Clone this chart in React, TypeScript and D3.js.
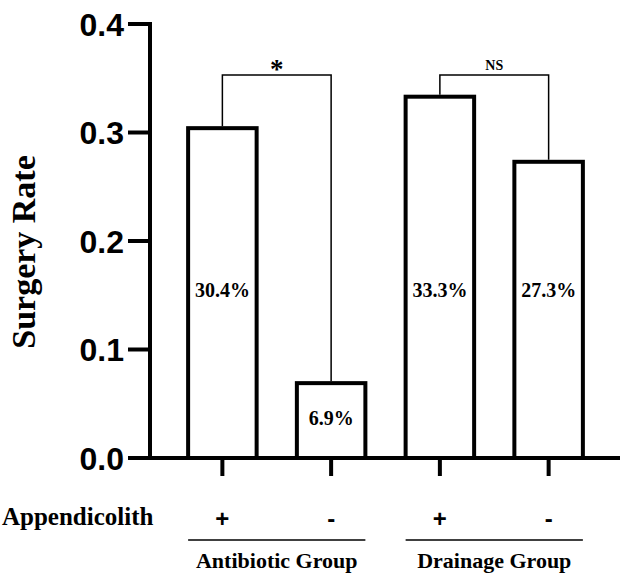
import React, { useRef, useEffect } from 'react';
import * as d3 from 'd3';

// Chart data
const categories = ['AB+', 'AB-', 'DR+', 'DR-'];
const surgeryRates = [0.304, 0.069, 0.333, 0.273];
const rateLabels = ['30.4%', '6.9%', '33.3%', '27.3%'];
const appendicolith = ['+', '-', '+', '-'];
const groups = [
  { name: 'Antibiotic Group', members: ['AB+', 'AB-'] },
  { name: 'Drainage Group', members: ['DR+', 'DR-'] }
];
const comparisons = [
  { from: 'AB+', to: 'AB-', label: '*' },
  { from: 'DR+', to: 'DR-', label: 'NS' }
];
const yTicks = [0, 0.1, 0.2, 0.3, 0.4];

const WIDTH = 629;
const HEIGHT = 574;

const SERIF = '"Times New Roman", "Liberation Serif", serif';
const SANS = 'Arial, "Liberation Sans", sans-serif';

const App = () => {
  const ref = useRef<SVGSVGElement>(null);

  useEffect(() => {
    const svg = d3.select(ref.current);
    svg.selectAll('*').remove();

    const axisX = 150;
    const baseY = 458;

    const y = d3.scaleLinear().domain([0, 0.4]).range([baseY, 24]);
    const x = d3.scaleBand<string>()
      .domain(categories)
      .range([168, 603])
      .paddingInner(0.37)
      .paddingOuter(0.185);
    const cx = (c: string) => (x(c) as number) + x.bandwidth() / 2;

    // Bars
    svg.selectAll('rect.bar')
      .data(categories)
      .join('rect')
      .attr('class', 'bar')
      .attr('x', d => x(d) as number)
      .attr('y', (d, i) => y(surgeryRates[i]))
      .attr('width', x.bandwidth())
      .attr('height', (d, i) => baseY - y(surgeryRates[i]))
      .attr('fill', 'white')
      .attr('stroke', 'black')
      .attr('stroke-width', 4);

    // Value labels: tall bars share one level, short bars get centred
    svg.selectAll('text.val')
      .data(categories)
      .join('text')
      .attr('class', 'val')
      .attr('x', d => cx(d))
      .attr('y', (d, i) => y(surgeryRates[i] < 0.1 ? surgeryRates[i] / 2 : 0.152) + 4)
      .attr('text-anchor', 'middle')
      .style('font-family', SERIF)
      .style('font-weight', 'bold')
      .style('font-size', '20px')
      .text((d, i) => rateLabels[i]);

    // Y axis
    svg.append('line')
      .attr('x1', axisX).attr('x2', axisX)
      .attr('y1', y(0.4) - 2).attr('y2', baseY)
      .attr('stroke', 'black').attr('stroke-width', 4);
    yTicks.forEach(t => {
      svg.append('line')
        .attr('x1', axisX - 22).attr('x2', axisX)
        .attr('y1', y(t)).attr('y2', y(t))
        .attr('stroke', 'black').attr('stroke-width', 4);
      svg.append('text')
        .attr('x', axisX - 26)
        .attr('y', y(t) + 11.5)
        .attr('text-anchor', 'end')
        .style('font-family', SANS)
        .style('font-weight', 'bold')
        .style('font-size', '32px')
        .text(d3.format('.1f')(t));
    });

    // X axis
    svg.append('line')
      .attr('x1', axisX - 2).attr('x2', 620)
      .attr('y1', baseY).attr('y2', baseY)
      .attr('stroke', 'black').attr('stroke-width', 4);
    categories.forEach((c, i) => {
      svg.append('line')
        .attr('x1', cx(c)).attr('x2', cx(c))
        .attr('y1', baseY).attr('y2', baseY + 18)
        .attr('stroke', 'black').attr('stroke-width', 4);
      svg.append('text')
        .attr('x', cx(c))
        .attr('y', 527)
        .attr('text-anchor', 'middle')
        .style('font-family', SANS)
        .style('font-weight', 'bold')
        .style('font-size', '24px')
        .text(appendicolith[i]);
    });

    // Y axis title
    svg.append('text')
      .attr('transform', `translate(35, 252) rotate(-90)`)
      .attr('text-anchor', 'middle')
      .style('font-family', SERIF)
      .style('font-weight', 'bold')
      .style('font-size', '34px')
      .text('Surgery Rate');

    svg.append('text')
      .attr('x', 2)
      .attr('y', 525)
      .style('font-family', SERIF)
      .style('font-weight', 'bold')
      .style('font-size', '25px')
      .text('Appendicolith');

    // Group underlines and names
    groups.forEach(g => {
      const x0 = x(g.members[0]) as number;
      const x1 = (x(g.members[g.members.length - 1]) as number) + x.bandwidth();
      svg.append('line')
        .attr('x1', x0).attr('x2', x1)
        .attr('y1', 540).attr('y2', 540)
        .attr('stroke', 'black').attr('stroke-width', 1.5);
      svg.append('text')
        .attr('x', (x0 + x1) / 2)
        .attr('y', 568)
        .attr('text-anchor', 'middle')
        .style('font-family', SERIF)
        .style('font-weight', 'bold')
        .style('font-size', '22px')
        .text(g.name);
    });

    // Significance brackets
    const bracketY = 75;
    comparisons.forEach(cmp => {
      const i0 = categories.indexOf(cmp.from);
      const i1 = categories.indexOf(cmp.to);
      const xa = cx(cmp.from);
      const xb = cx(cmp.to);
      svg.append('path')
        .attr('d', `M${xa},${y(surgeryRates[i0]) - 2}V${bracketY}H${xb}V${y(surgeryRates[i1]) - 2}`)
        .attr('fill', 'none')
        .attr('stroke', 'black')
        .attr('stroke-width', 1.5);
      const isStar = cmp.label === '*';
      svg.append('text')
        .attr('x', (xa + xb) / 2)
        .attr('y', isStar ? 78 : 69.5)
        .attr('text-anchor', 'middle')
        .style('font-family', SERIF)
        .style('font-weight', 'bold')
        .style('font-size', isStar ? '27px' : '14px')
        .text(cmp.label);
    });
  }, []);

  return (
    <svg
      ref={ref}
      width={WIDTH}
      height={HEIGHT}
      style={{ position: 'absolute', left: 0, top: 0, background: 'white' }}
    />
  );
};

export default App;
